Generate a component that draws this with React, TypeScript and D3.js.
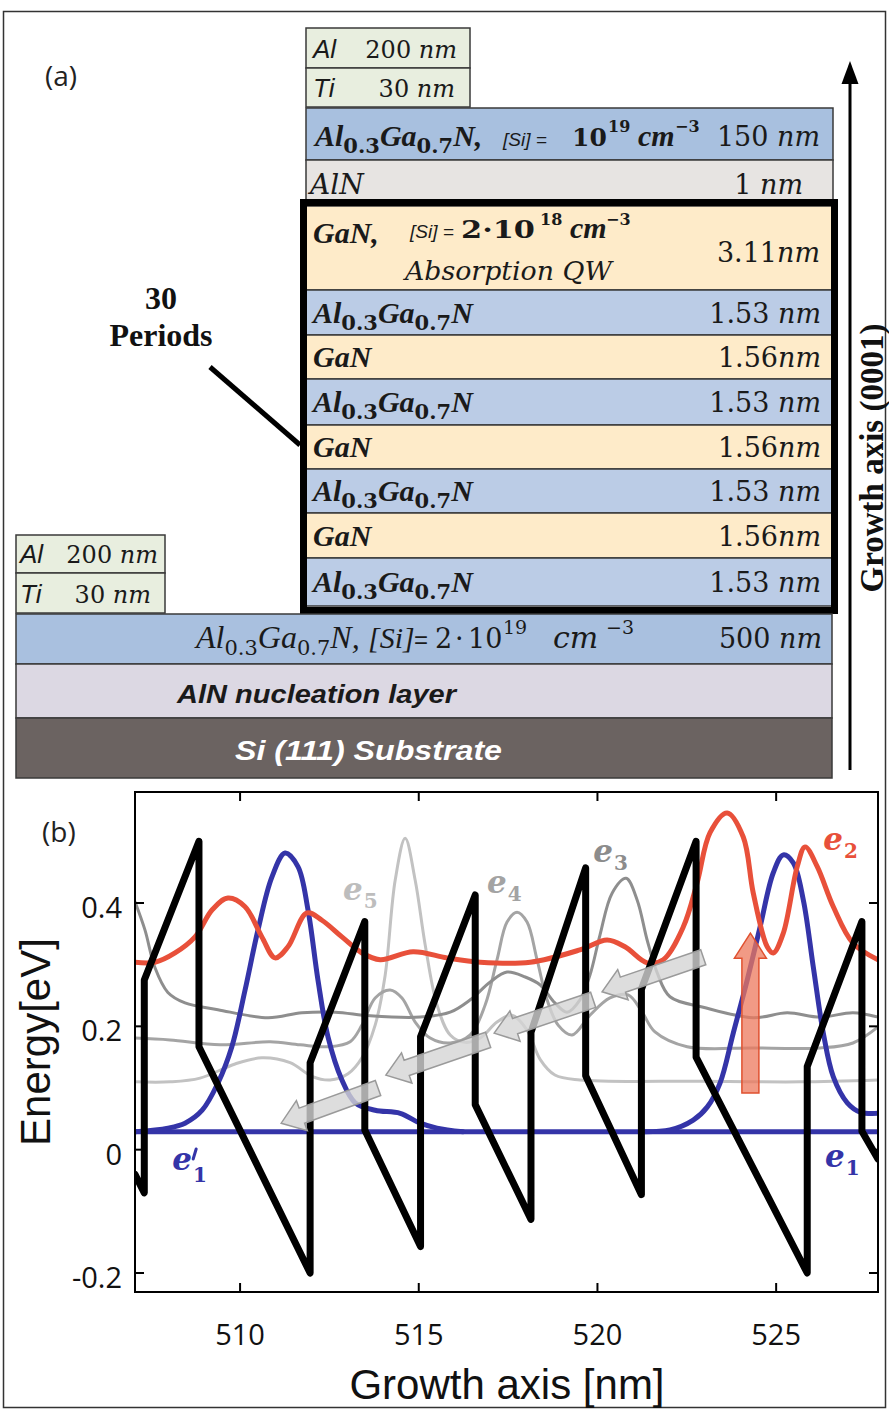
import React from "react";
import * as d3 from "d3";

type P = [number, number];

// ---------- panel (b) data ----------
const xTicks = [510, 515, 520, 525];
const yTicks = [-0.2, 0, 0.2, 0.4];
const yTickLabels = ["-0.2", "0", "0.2", "0.4"];
const xDomain: P = [507.06, 527.85];
const yDomain: P = [-0.2308, 0.58];

const conductionBand: P[] = [
  [507.06, -0.04], [507.32, -0.07], [507.32, 0.275], [508.85, 0.5], [508.85, 0.167],
  [511.96, -0.2], [511.96, 0.141], [513.49, 0.37], [513.49, 0.032], [515.05, -0.157],
  [515.05, 0.183], [516.58, 0.413], [516.58, 0.073], [518.14, -0.113], [518.14, 0.19],
  [519.67, 0.457], [519.67, 0.12], [521.23, -0.073], [521.23, 0.26], [522.76, 0.5],
  [522.76, 0.15], [525.87, -0.2], [525.87, 0.135], [527.4, 0.37], [527.4, 0.03],
  [527.85, -0.015],
];

const e1Level: P[] = [[507.06, 0.029], [527.85, 0.029]];

const e1PrimeWave: P[] = [
  [507.06, 0.029], [507.98, 0.035], [508.46, 0.043], [508.94, 0.064], [509.38, 0.108],
  [509.77, 0.167], [510.14, 0.259], [510.5, 0.356], [510.89, 0.442], [511.26, 0.481],
  [511.62, 0.459], [511.9, 0.389], [512.18, 0.275], [512.46, 0.183], [512.85, 0.113],
  [513.22, 0.076], [513.78, 0.064], [514.48, 0.059], [515.04, 0.043], [515.51, 0.035],
  [516.24, 0.029],
];

const e1Wave: P[] = [
  [521.19, 0.029], [522.03, 0.032], [522.68, 0.048], [523.07, 0.069], [523.43, 0.108],
  [523.8, 0.189], [524.19, 0.275], [524.55, 0.361], [524.92, 0.449], [525.2, 0.478],
  [525.48, 0.465], [525.76, 0.405], [526.04, 0.296], [526.32, 0.189], [526.6, 0.118],
  [526.99, 0.076], [527.35, 0.061], [527.85, 0.059],
];

const e2Wave: P[] = [
  [507.06, 0.304], [507.62, 0.304], [508.18, 0.319], [508.74, 0.345], [509.22, 0.389],
  [509.66, 0.408], [510.14, 0.394], [510.61, 0.345], [510.98, 0.311], [511.34, 0.329],
  [511.87, 0.384], [512.29, 0.372], [512.85, 0.345], [513.41, 0.319], [513.92, 0.308],
  [514.84, 0.321], [515.79, 0.311], [516.72, 0.304], [518.12, 0.304], [519.51, 0.324],
  [520.27, 0.34], [520.77, 0.329], [521.39, 0.303], [521.84, 0.308], [522.4, 0.361],
  [522.79, 0.433], [523.15, 0.514], [523.63, 0.546], [524.08, 0.507], [524.36, 0.416],
  [524.75, 0.329], [524.92, 0.319], [525.2, 0.351], [525.59, 0.459], [525.81, 0.491],
  [526.15, 0.459], [526.6, 0.394], [527.15, 0.335], [527.85, 0.308],
];

const e3Wave: P[] = [
  [507.06, 0.402], [507.34, 0.356], [507.62, 0.295], [507.98, 0.255], [508.46, 0.238],
  [509.38, 0.227], [510.78, 0.214], [511.73, 0.222], [512.66, 0.223], [513.64, 0.217],
  [515.04, 0.215], [515.88, 0.223], [516.44, 0.243], [517.0, 0.272], [517.47, 0.288],
  [517.98, 0.28], [518.4, 0.267], [518.81, 0.238], [519.15, 0.223], [519.51, 0.243],
  [519.79, 0.283], [520.07, 0.348], [520.41, 0.416], [520.8, 0.44], [521.11, 0.405],
  [521.39, 0.34], [521.67, 0.287], [522.03, 0.248], [522.96, 0.231], [524.36, 0.214],
  [525.31, 0.222], [526.23, 0.215], [527.15, 0.222], [527.85, 0.215],
];

const e4Wave: P[] = [
  [507.06, 0.181], [508.04, 0.178], [509.44, 0.17], [510.84, 0.175], [511.68, 0.17],
  [512.52, 0.167], [513.08, 0.175], [513.41, 0.202], [513.78, 0.246], [514.2, 0.259],
  [514.53, 0.246], [514.9, 0.207], [515.32, 0.181], [515.88, 0.173], [516.44, 0.186],
  [516.86, 0.235], [517.19, 0.308], [517.47, 0.369], [517.75, 0.385], [518.03, 0.369],
  [518.31, 0.308], [518.59, 0.243], [518.9, 0.202], [519.29, 0.186], [519.79, 0.218],
  [520.35, 0.246], [520.86, 0.251], [521.25, 0.223], [521.61, 0.191], [522.51, 0.167],
  [524.36, 0.165], [526.23, 0.165], [527.15, 0.173], [527.85, 0.199],
];

const e5Wave: P[] = [
  [507.06, 0.11], [508.04, 0.11], [508.88, 0.116], [509.86, 0.139], [510.61, 0.149],
  [511.4, 0.141], [512.01, 0.119], [512.52, 0.113], [513.02, 0.123], [513.41, 0.149],
  [513.78, 0.202], [514.06, 0.283], [514.34, 0.437], [514.62, 0.505], [514.9, 0.437],
  [515.18, 0.332], [515.51, 0.235], [515.88, 0.186], [516.3, 0.174], [516.72, 0.181],
  [517.19, 0.207], [517.61, 0.218], [518.03, 0.194], [518.4, 0.146], [518.81, 0.121],
  [519.51, 0.113], [522.87, 0.111], [525.67, 0.11], [527.85, 0.113],
];

const relaxationArrows: [P, P][] = [
  [[522.96, 0.312], [520.13, 0.256]],
  [[519.88, 0.243], [517.11, 0.189]],
  [[516.94, 0.178], [514.08, 0.121]],
  [[513.86, 0.1], [511.15, 0.043]],
];
const absorptionArrow: [P, P] = [[524.28, 0.092], [524.28, 0.351]];

const stateLabels = [
  { sub: "5", prime: false, x: 512.88, E: 0.405, color: "#bdbdbd" },
  { sub: "4", prime: false, x: 516.91, E: 0.416, color: "#a3a3a3" },
  { sub: "3", prime: false, x: 519.88, E: 0.467, color: "#8c8c8c" },
  { sub: "2", prime: false, x: 526.32, E: 0.486, color: "#e8503a" },
  { sub: "1", prime: true, x: 508.1, E: -0.033, color: "#3434a8" },
  { sub: "1", prime: false, x: 526.37, E: -0.028, color: "#3434a8" },
];

// ---------- panel (a) data ----------
const superlattice = [
  { mat: "GaNQW", thick: "3.11nm" },
  { mat: "AlGaN", thick: "1.53 nm" },
  { mat: "GaN", thick: "1.56nm" },
  { mat: "AlGaN", thick: "1.53 nm" },
  { mat: "GaN", thick: "1.56nm" },
  { mat: "AlGaN", thick: "1.53 nm" },
  { mat: "GaN", thick: "1.56nm" },
  { mat: "AlGaN", thick: "1.53 nm" },
];
const slRowHeights = [84, 45, 44, 46, 44, 44, 45, 48];

const SERIF = "'Liberation Serif', 'Times New Roman', serif";
const DSERIF = "'DejaVu Serif', serif";
const SANS = "'Liberation Sans', Arial, sans-serif";
const TICK = "'Open Sans', 'Noto Sans', sans-serif";
const INK = "#1a1a1a";

function AlGaNFormula({ x, y, size = 30, sub = 21, weight = "bold", suffix = "" }: any) {
  return (
    <text x={x} y={y} fontFamily={SERIF} fontStyle="italic" fontWeight={weight} fontSize={size} fill={INK}>
      Al
      <tspan fontFamily={DSERIF} fontStyle="normal" fontSize={sub} dy={7}>0.3</tspan>
      <tspan dy={-7}>Ga</tspan>
      <tspan fontFamily={DSERIF} fontStyle="normal" fontSize={sub} dy={7}>0.7</tspan>
      <tspan dy={-7}>{"N" + suffix}</tspan>
    </text>
  );
}

function Thick({ x, y, text, size = 27 }: any) {
  const m = text.match(/^([\d.]+)(\s?)nm$/);
  return (
    <text x={x} y={y} textAnchor="end" fontFamily={DSERIF} fontSize={size} fill={INK}>
      {m[1] + m[2]}
      <tspan fontStyle="italic">nm</tspan>
    </text>
  );
}

function arrowPoints(t: P, h: P, sw: number, hw: number, hl: number) {
  const dx = h[0] - t[0], dy = h[1] - t[1];
  const L = Math.hypot(dx, dy);
  const ux = dx / L, uy = dy / L, nx = -uy, ny = ux;
  const bx = h[0] - ux * hl, by = h[1] - uy * hl;
  const pts = [
    [t[0] + nx * sw, t[1] + ny * sw],
    [bx + nx * sw, by + ny * sw],
    [bx + nx * hw, by + ny * hw],
    [h[0], h[1]],
    [bx - nx * hw, by - ny * hw],
    [bx - nx * sw, by - ny * sw],
    [t[0] - nx * sw, t[1] - ny * sw],
  ];
  return pts.map((p) => p.map((v) => v.toFixed(1)).join(",")).join(" ");
}

export default function App() {
  const L = 135, R = 878, T = 792, B = 1292;
  const x = d3.scaleLinear().domain(xDomain).range([L, R]);
  const y = d3.scaleLinear().domain(yDomain).range([B, T]);
  const smooth = d3
    .line<P>()
    .x((d) => x(d[0]))
    .y((d) => y(d[1]))
    .curve(d3.curveCatmullRom.alpha(0.5));
  const straight = d3
    .line<P>()
    .x((d) => x(d[0]))
    .y((d) => y(d[1]));

  const slTop = 206;
  const slY: number[] = [];
  slRowHeights.reduce((acc, h) => {
    slY.push(acc);
    return acc + h;
  }, slTop);

  const boxStroke = "#3a3a3a";

  return (
    <svg width={889} height={1410} style={{ position: "absolute", left: 0, top: 0, background: "#fff" }}>
      <defs>
        <clipPath id="plotClip">
          <rect x={L} y={T} width={R - L} height={B - T} />
        </clipPath>
      </defs>
      <rect x={0} y={0} width={889} height={1410} fill="#fff" />
      <rect x={3.5} y={11.5} width={882} height={1396} fill="none" stroke="#333" strokeWidth={1.5} />

      {/* ================= panel (a) ================= */}
      <text x={45} y={86} fontFamily={TICK} fontSize={28} fill="#222">(a)</text>

      {/* top metal contact */}
      <rect x={306} y={28} width={164} height={40} fill="#e8eedf" stroke={boxStroke} strokeWidth={1.5} />
      <rect x={306} y={68} width={164} height={39} fill="#e8eedf" stroke={boxStroke} strokeWidth={1.5} />
      <text x={313} y={58} fontFamily={SANS} fontStyle="italic" fontSize={26} fill={INK}>Al</text>
      <Thick x={457} y={58} text="200 nm" size={24} />
      <text x={313} y={97} fontFamily={SANS} fontStyle="italic" fontSize={26} fill={INK}>Ti</text>
      <Thick x={455} y={97} text="30 nm" size={24} />

      {/* 150 nm cap */}
      <rect x={306} y={108} width={527} height={52} fill="#a8c0df" stroke={boxStroke} strokeWidth={1.5} />
      <AlGaNFormula x={315} y={146} suffix="," />
      <text x={503} y={146} fontFamily={SANS} fontStyle="italic" fontSize={19} fill={INK}>[Si] =</text>
      <text x={572} y={146} fontFamily={DSERIF} fontWeight="bold" fontSize={25} fill={INK}>10</text>
      <text x={608} y={132} fontFamily={DSERIF} fontWeight="bold" fontSize={16} fill={INK}>19</text>
      <text x={638} y={146} fontFamily={SERIF} fontStyle="italic" fontWeight="bold" fontSize={30} fill={INK}>cm</text>
      <text x={675} y={132} fontFamily={DSERIF} fontWeight="bold" fontSize={16} fill={INK}>−3</text>
      <Thick x={820} y={146} text="150 nm" />

      {/* AlN 1 nm */}
      <rect x={306} y={160} width={527} height={40} fill="#e7e4e2" stroke={boxStroke} strokeWidth={1.5} />
      <text x={310} y={194} fontFamily={DSERIF} fontStyle="italic" fontSize={28} fill={INK}>AlN</text>
      <Thick x={803} y={194} text="1 nm" />

      {/* superlattice */}
      {superlattice.map((layer, i) => {
        const top = slY[i];
        const h = slRowHeights[i];
        const isAl = layer.mat === "AlGaN";
        const base = top + h / 2 + 10;
        return (
          <g key={i}>
            <rect x={306} y={top} width={527} height={h} fill={isAl ? "#bbcce6" : "#feebc9"} stroke={boxStroke} strokeWidth={1.5} />
            {layer.mat === "GaNQW" ? (
              <g>
                <text x={313} y={243} fontFamily={SERIF} fontStyle="italic" fontWeight="bold" fontSize={30} fill={INK}>GaN,</text>
                <text x={410} y={238} fontFamily={SANS} fontStyle="italic" fontSize={19} fill={INK}>[Si] =</text>
                <text x={461} y={238} fontFamily={DSERIF} fontWeight="bold" fontSize={24} fill={INK} textLength={74} lengthAdjust="spacingAndGlyphs">2·10</text>
                <text x={540} y={225} fontFamily={DSERIF} fontWeight="bold" fontSize={16} fill={INK}>18</text>
                <text x={570} y={238} fontFamily={SERIF} fontStyle="italic" fontWeight="bold" fontSize={30} fill={INK}>cm</text>
                <text x={606} y={225} fontFamily={DSERIF} fontWeight="bold" fontSize={16} fill={INK}>−3</text>
                <text x={405} y={280} fontFamily={DSERIF} fontStyle="italic" fontSize={26} fill={INK} textLength={207} lengthAdjust="spacingAndGlyphs">Absorption QW</text>
                <Thick x={820} y={262} text={layer.thick} />
              </g>
            ) : (
              <g>
                {isAl ? (
                  <AlGaNFormula x={313} y={base} />
                ) : (
                  <text x={313} y={base} fontFamily={SERIF} fontStyle="italic" fontWeight="bold" fontSize={30} fill={INK}>GaN</text>
                )}
                <Thick x={821} y={base} text={layer.thick} />
              </g>
            )}
          </g>
        );
      })}
      <rect x={303.5} y={202.5} width={531} height={408} fill="none" stroke="#000" strokeWidth={7} />

      {/* 30 periods */}
      <text x={161} y={309} textAnchor="middle" fontFamily={SERIF} fontWeight="bold" fontSize={32} fill="#111">30</text>
      <text x={161} y={346} textAnchor="middle" fontFamily={SERIF} fontWeight="bold" fontSize={32} fill="#111">Periods</text>
      <line x1={210} y1={367} x2={300} y2={445} stroke="#000" strokeWidth={5} />

      {/* left metal contact */}
      <rect x={16} y={535} width={149} height={38} fill="#e8eedf" stroke={boxStroke} strokeWidth={1.5} />
      <rect x={16} y={573} width={149} height={40} fill="#e8eedf" stroke={boxStroke} strokeWidth={1.5} />
      <text x={20} y={563} fontFamily={SANS} fontStyle="italic" fontSize={26} fill={INK}>Al</text>
      <Thick x={158} y={563} text="200 nm" size={24} />
      <text x={20} y={603} fontFamily={SANS} fontStyle="italic" fontSize={26} fill={INK}>Ti</text>
      <Thick x={151} y={603} text="30 nm" size={24} />

      {/* 500 nm layer */}
      <rect x={16} y={614} width={816} height={50} fill="#a9c0df" stroke={boxStroke} strokeWidth={1.5} />
      <AlGaNFormula x={196} y={648} size={32} sub={21} weight="normal" suffix="," />
      <text x={368} y={648} fontFamily={SERIF} fontStyle="italic" fontSize={30} fill={INK}>[Si]</text>
      <text x={414} y={648} fontFamily={SANS} fontSize={24} fill={INK}>=</text>
      <text x={435} y={648} fontFamily={DSERIF} fontSize={27} fill={INK}>2</text>
      <text x={455} y={648} fontFamily={DSERIF} fontSize={27} fill={INK}>·</text>
      <text x={468} y={648} fontFamily={DSERIF} fontSize={27} fill={INK}>10</text>
      <text x={503} y={634} fontFamily={DSERIF} fontSize={19} fill={INK}>19</text>
      <text x={553} y={648} fontFamily={DSERIF} fontStyle="italic" fontSize={30} fill={INK}>cm</text>
      <text x={606} y={634} fontFamily={DSERIF} fontSize={19} fill={INK}>−3</text>
      <Thick x={822} y={648} text="500 nm" />

      {/* nucleation + substrate */}
      <rect x={16} y={664} width={816} height={54} fill="#dcd8e3" stroke={boxStroke} strokeWidth={1.5} />
      <text x={177} y={703} fontFamily={SANS} fontStyle="italic" fontWeight="bold" fontSize={26} fill={INK} textLength={279} lengthAdjust="spacingAndGlyphs">AlN nucleation layer</text>
      <rect x={16} y={718} width={816} height={60} fill="#6b6361" stroke={boxStroke} strokeWidth={1.5} />
      <text x={235} y={760} fontFamily={SANS} fontStyle="italic" fontWeight="bold" fontSize={28} fill="#fff" textLength={267} lengthAdjust="spacingAndGlyphs">Si (111) Substrate</text>

      {/* growth axis arrow */}
      <line x1={850} y1={770} x2={850} y2={80} stroke="#000" strokeWidth={3} />
      <polygon points="850,61 841.5,84 858.5,84" fill="#000" />
      <text transform="translate(883,458) rotate(-90)" textAnchor="middle" fontFamily={SERIF} fontWeight="bold" fontSize={33} fill="#111">Growth axis (0001)</text>

      {/* ================= panel (b) ================= */}
      <text x={42} y={842} fontFamily={TICK} fontSize={28} fill="#222">(b)</text>

      <g clipPath="url(#plotClip)" fill="none" strokeLinecap="round" strokeLinejoin="round">
        <path d={smooth(e5Wave) || ""} stroke="#c2c2c2" strokeWidth={3} />
        <path d={smooth(e4Wave) || ""} stroke="#a4a4a4" strokeWidth={3} />
        <path d={smooth(e3Wave) || ""} stroke="#8e8e8e" strokeWidth={3} />
        <path d={straight(e1Level) || ""} stroke="#3434a8" strokeWidth={5} />
        <path d={smooth(e1PrimeWave) || ""} stroke="#3434a8" strokeWidth={5} />
        <path d={smooth(e1Wave) || ""} stroke="#3434a8" strokeWidth={5} />
        <path d={smooth(e2Wave) || ""} stroke="#e8503a" strokeWidth={5} />
        <path d={straight(conductionBand) || ""} stroke="#000" strokeWidth={7} />
        {relaxationArrows.map(([t, h], i) => (
          <polygon
            key={i}
            points={arrowPoints([x(t[0]), y(t[1])], [x(h[0]), y(h[1])], 8, 16, 22)}
            fill="rgba(212,212,212,0.8)"
            stroke="#9a9a9a"
            strokeWidth={1.5}
            strokeLinejoin="miter"
          />
        ))}
        <polygon
          points={arrowPoints(
            [x(absorptionArrow[0][0]), y(absorptionArrow[0][1])],
            [x(absorptionArrow[1][0]), y(absorptionArrow[1][1])],
            8.5, 16, 25
          )}
          fill="rgba(236,120,92,0.75)"
          stroke="#e0502f"
          strokeWidth={1.5}
          strokeLinejoin="miter"
        />
      </g>

      {/* state labels */}
      {stateLabels.map((s, i) => {
        const lx = x(s.x), ly = y(s.E);
        return (
          <g key={i}>
            <text x={lx} y={ly} fill={s.color} fontFamily={DSERIF} fontStyle="italic" fontWeight="bold" fontSize={31}>
              e
              <tspan fontStyle="normal" fontSize={20} dx={1} dy={s.prime ? 12 : 8}>{s.sub}</tspan>
            </text>
            {s.prime && (
              <path d={`M${lx + 24},${ly - 21} L${lx + 21},${ly - 11}`} stroke={s.color} strokeWidth={3} strokeLinecap="round" fill="none" />
            )}
          </g>
        );
      })}

      {/* axes frame and ticks */}
      <rect x={L} y={T} width={R - L} height={B - T} fill="none" stroke="#000" strokeWidth={2} />
      {xTicks.map((t) => (
        <g key={"x" + t}>
          <line x1={x(t)} x2={x(t)} y1={B} y2={B - 9} stroke="#000" strokeWidth={2} />
          <line x1={x(t)} x2={x(t)} y1={T} y2={T + 9} stroke="#000" strokeWidth={2} />
          <text x={x(t)} y={1345} textAnchor="middle" fontFamily={TICK} fontSize={29} fill="#111">{t}</text>
        </g>
      ))}
      {yTicks.map((t, i) => (
        <g key={"y" + t}>
          <line x1={L} x2={L + 9} y1={y(t)} y2={y(t)} stroke="#000" strokeWidth={2} />
          <line x1={R} x2={R - 9} y1={y(t)} y2={y(t)} stroke="#000" strokeWidth={2} />
          <text x={122} y={y(t) + 15} textAnchor="end" fontFamily={TICK} fontSize={29} fill="#111">{yTickLabels[i]}</text>
        </g>
      ))}
      <text transform="translate(50,1042) rotate(-90)" textAnchor="middle" fontFamily={SANS} fontSize={42} fill="#111">Energy[eV]</text>
      <text x={507} y={1399} textAnchor="middle" fontFamily={SANS} fontSize={42} fill="#111">Growth axis [nm]</text>
    </svg>
  );
}
